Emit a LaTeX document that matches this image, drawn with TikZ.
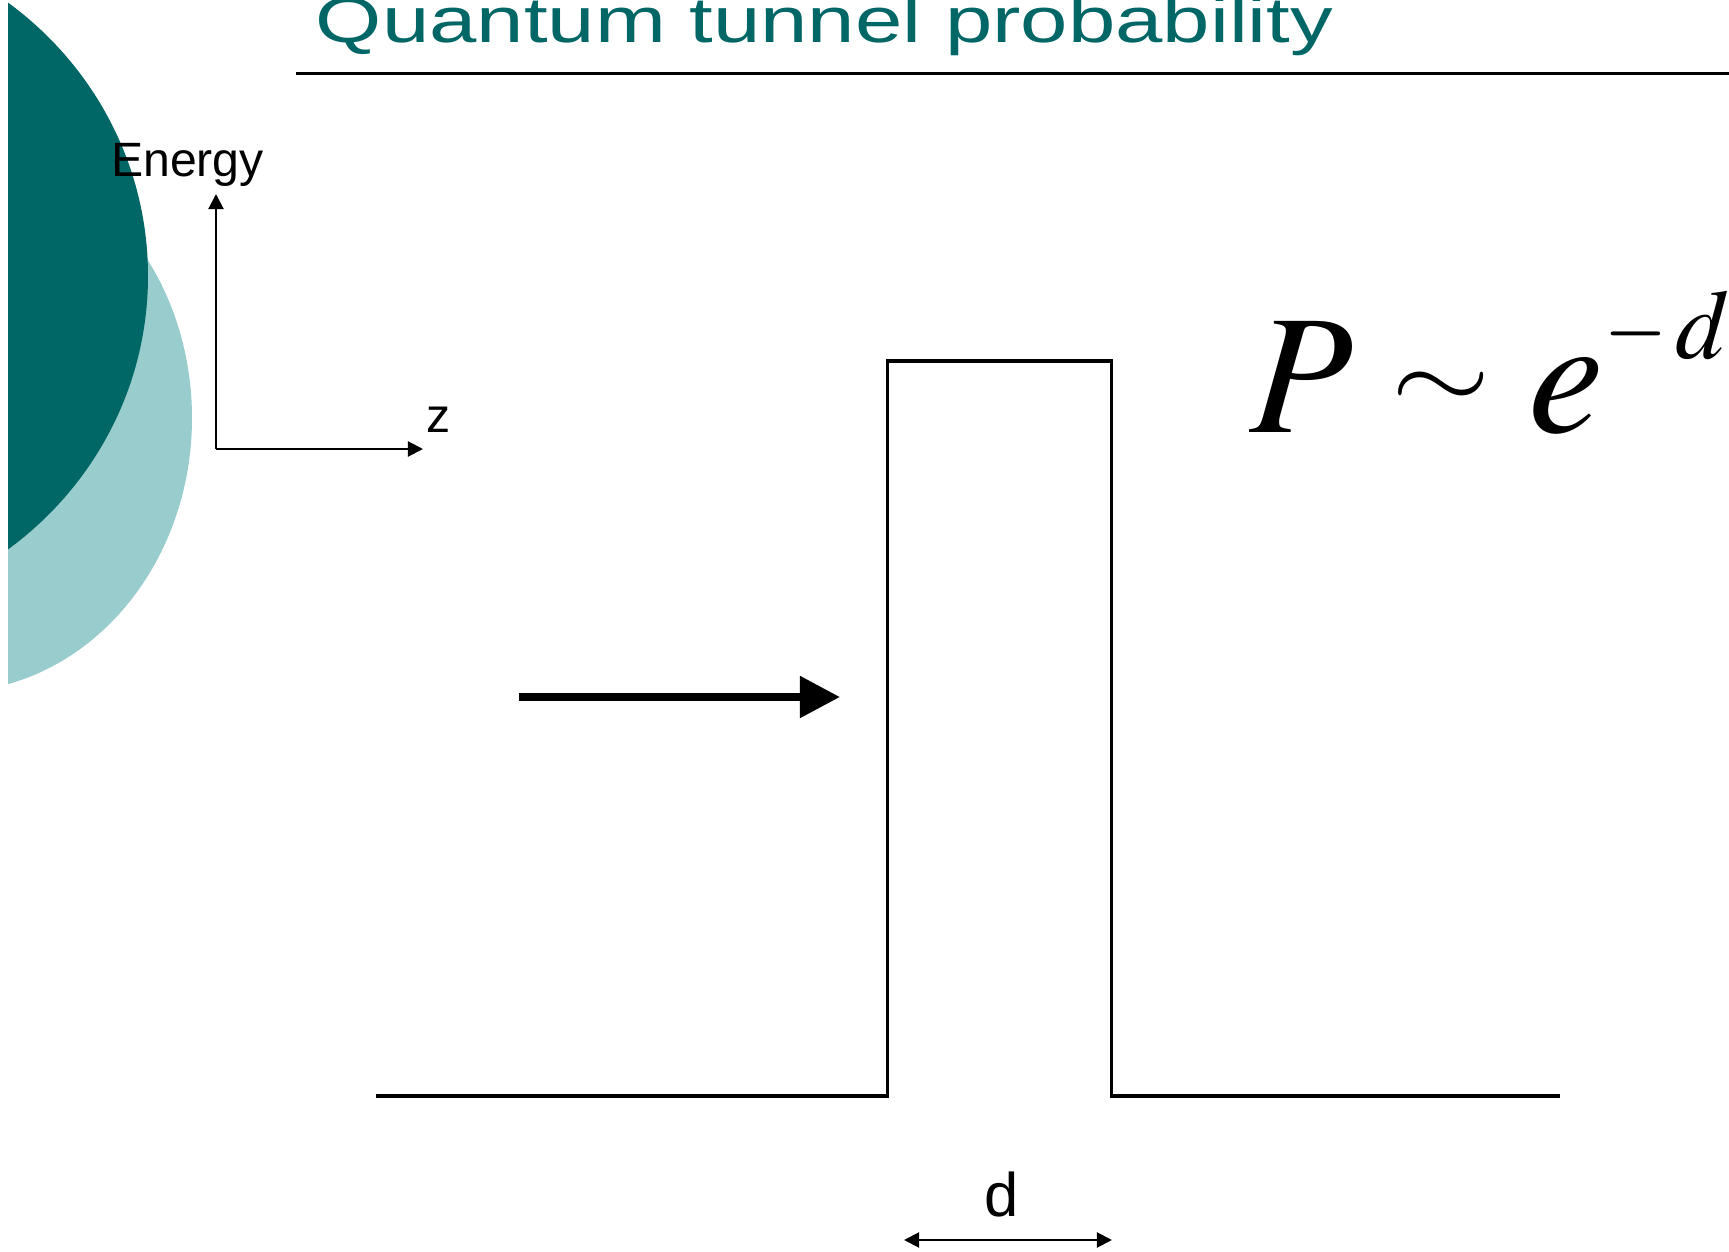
\documentclass[tikz,border=0pt]{standalone}
\usepackage{mathptmx}
\usepackage[no-math]{fontspec}
\setmainfont{Liberation Sans}
\usepackage{graphicx}
\usetikzlibrary{arrows.meta}
\definecolor{oceanteal}{RGB}{0,102,102}
\definecolor{oceanlight}{RGB}{153,204,204}

\begin{document}
\begin{tikzpicture}[x=0.01cm, y=-0.01cm,
    title/.style={font=\fontsize{18.2}{22}\selectfont, text=oceanteal,
                  xscale=1.33, inner sep=0pt, anchor=base west},
    label/.style={font=\fontsize{13.7}{16}\selectfont, inner sep=0pt, anchor=base},
    axis/.style={line width=0.57pt, -{Triangle[length=4.3pt, width=4.3pt]}},
    barrier/.style={line width=0.94pt, line join=miter},
    wave/.style={line width=2.3pt, -{Triangle[length=11.4pt, width=11.4pt]}},
    dimarrow/.style={line width=0.57pt,
                     {Triangle[length=4.3pt, width=4.3pt]}-{Triangle[length=4.3pt, width=4.3pt]}},
    formula/.style={font=\fontsize{48.4}{58}\selectfont, inner sep=0pt, anchor=base west}
  ]
  \useasboundingbox[fill=white] (0,0) rectangle (1729,1252);

  % template ovals on the left
  \begin{scope}
    \clip (8,0) rectangle (1729,1252);
    \fill[oceanlight] (-50,418) ellipse [x radius=242, y radius=274];
    \fill[oceanteal] (-200,276) ellipse [x radius=348, y radius=341];
  \end{scope}

  \node[title] (ttl) at (315,43) {Quantum tunnel probability};
  \draw[line width=0.94pt] (296,73.3) -- (1729,73.3);

  % axes
  \coordinate (origin) at (216,449);
  \coordinate (etip) at (216,194);
  \coordinate (ztip) at (423,449);
  \draw[axis] (origin) -- (etip);
  \draw[axis] (origin) -- (ztip);
  \node[label] (energy) at (187.5,176.5) {Energy};
  \node[label] (zlab) at (439,433) {z};

  % potential barrier
  \draw[barrier] (376,1096) -- (887.5,1096) -- (887.5,361)
    -- (1111.5,361) -- (1111.5,1096) -- (1560,1096);

  % incoming particle
  \coordinate (wstart) at (519,697);
  \coordinate (wend) at (840,697);
  \draw[wave] (wstart) -- (wend);

  % barrier width
  \coordinate (wl) at (904,1240);
  \coordinate (wr) at (1112,1240);
  \draw[dimarrow] (wl) -- (wr);
  \node[label, font=\fontsize{17.5}{20}\selectfont] (dlab) at (1002,1217) {d};

  \node[formula] (prob) at (1249,433)
    {$P\mathrel{\vcenter{\hbox{\scalebox{0.75}[0.6]{$\sim$}}}}e^{\raisebox{3.7pt}{\fontsize{28}{30}\selectfont\scalebox{0.82}[1]{$-$}\kern2.5pt$d$}}$};
\end{tikzpicture}
\end{document}
